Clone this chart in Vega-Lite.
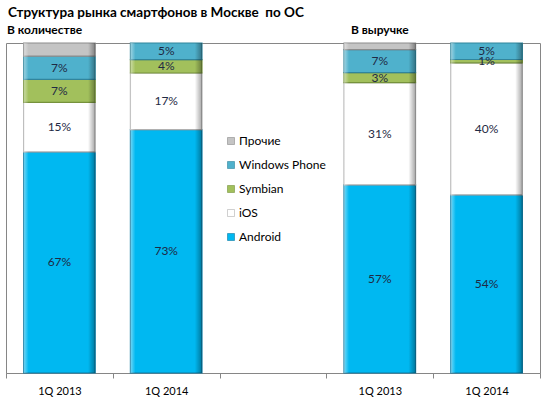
{
  "$schema": "https://vega.github.io/schema/vega-lite/v6.json",
  "width": 534,
  "height": 330,
  "autosize": "none",
  "padding": {"left": 6, "top": 43, "right": 12, "bottom": 33},
  "config": {
    "view": {"stroke": "#868686", "strokeWidth": 1},
    "font": "Lato"
  },
  "title": {
    "text": "Структура рынка смартфонов в Москве\u00a0 по ОС",
    "anchor": "start",
    "frame": "group",
    "font": "Lato",
    "fontSize": 13.5,
    "fontWeight": "bold",
    "color": "#000000",
    "baseline": "alphabetic",
    "dx": 2,
    "offset": -6
  },
  "layer": [
    {
      "data": {
        "values": [
          {"slot": "1Q 2013|q", "os": "Android", "value": 67},
          {"slot": "1Q 2013|q", "os": "iOS", "value": 15},
          {"slot": "1Q 2013|q", "os": "Symbian", "value": 7},
          {"slot": "1Q 2013|q", "os": "Windows Phone", "value": 7},
          {"slot": "1Q 2013|q", "os": "Прочие", "value": 4},
          {"slot": "1Q 2014|q", "os": "Android", "value": 73},
          {"slot": "1Q 2014|q", "os": "iOS", "value": 17},
          {"slot": "1Q 2014|q", "os": "Symbian", "value": 4},
          {"slot": "1Q 2014|q", "os": "Windows Phone", "value": 5},
          {"slot": "1Q 2013|r", "os": "Android", "value": 57},
          {"slot": "1Q 2013|r", "os": "iOS", "value": 31},
          {"slot": "1Q 2013|r", "os": "Symbian", "value": 3},
          {"slot": "1Q 2013|r", "os": "Windows Phone", "value": 7},
          {"slot": "1Q 2013|r", "os": "Прочие", "value": 2},
          {"slot": "1Q 2014|r", "os": "Android", "value": 54},
          {"slot": "1Q 2014|r", "os": "iOS", "value": 40},
          {"slot": "1Q 2014|r", "os": "Symbian", "value": 1},
          {"slot": "1Q 2014|r", "os": "Windows Phone", "value": 5}
        ]
      },
      "transform": [
        {"calculate": "indexof(['Android','iOS','Symbian','Windows Phone','Прочие'], datum.os)", "as": "k"},
        {"stack": "value", "groupby": ["slot"], "sort": [{"field": "k", "order": "ascending"}], "offset": "normalize", "as": ["v0", "v1"]},
        {"calculate": "(datum.v0 + datum.v1) / 2", "as": "mid"},
        {"calculate": "datum.value + '%'", "as": "label"}
      ],
      "encoding": {
        "x": {
          "field": "slot",
          "type": "nominal",
          "title": null,
          "scale": {
            "domain": ["1Q 2013|q", "1Q 2014|q", "|", "1Q 2013|r", "1Q 2014|r"],
            "paddingInner": 0,
            "paddingOuter": 0
          },
          "axis": {
            "labelExpr": "isString(datum.value) ? split(datum.value, '|')[0] : ''",
            "labelAngle": 0,
            "labelFont": "Lato",
            "labelFontSize": 11,
            "labelColor": "#000000",
            "labelPadding": 7,
            "tickBand": "extent",
            "tickSize": 5,
            "tickColor": "#868686",
            "domainColor": "#868686"
          }
        },
        "y": {"field": "v0", "type": "quantitative", "scale": {"domain": [0, 1], "nice": false}, "axis": null},
        "y2": {"field": "v1"}
      },
      "layer": [
        {
          "mark": {"type": "bar", "width": {"band": 0.67}, "strokeWidth": 1.2},
          "encoding": {
            "color": {
              "field": "os",
              "type": "nominal",
              "scale": {
                "domain": ["Прочие", "Windows Phone", "Symbian", "iOS", "Android"],
                "range": ["#C4C4C4", "#4FB1CC", "#A2C05C", "#FFFFFF", "#00B8F1"]
              },
              "legend": {
                "orient": "none",
                "legendX": 219,
                "legendY": 92,
                "title": null,
                "padding": 0,
                "symbolType": "square",
                "symbolSize": 49,
                "symbolStrokeColor": "#8C8C8C",
                "symbolStrokeWidth": 0.6,
                "labelFont": "Lato",
                "labelFontSize": 12,
                "labelColor": "#000000",
                "labelOffset": 2,
                "rowPadding": 12
              }
            },
            "stroke": {
              "field": "os",
              "type": "nominal",
              "scale": {
                "domain": ["Прочие", "Windows Phone", "Symbian", "iOS", "Android"],
                "range": ["#8C8C8C", "#31859C", "#76923C", "#B0B0B0", "#0E7AA3"]
              },
              "legend": null
            }
          }
        },
        {
          "mark": {
            "type": "bar",
            "width": {"band": 0.67},
            "strokeWidth": 0,
            "fill": {
              "gradient": "linear", "x1": 0, "y1": 0, "x2": 1, "y2": 0,
              "stops": [
                {"offset": 0, "color": "rgba(255,255,255,0.45)"},
                {"offset": 0.07, "color": "rgba(255,255,255,0)"},
                {"offset": 0.9, "color": "rgba(0,0,0,0)"},
                {"offset": 1, "color": "rgba(0,0,0,0.35)"}
              ]
            }
          }
        },
        {
          "transform": [{"filter": "datum.os != 'Прочие'"}],
          "mark": {"type": "text", "font": "Lato", "fontSize": 12, "color": "#1F2A44"},
          "encoding": {
            "y": {"field": "mid", "type": "quantitative"},
            "y2": null,
            "text": {"field": "label"}
          }
        }
      ]
    },
    {
      "data": {"values": [{"slot": "1Q 2013|q", "head": "В количестве"}]},
      "mark": {"type": "text", "font": "Lato", "fontSize": 12, "fontWeight": "bold", "color": "#000000", "align": "left", "baseline": "alphabetic", "dx": 1, "dy": -9},
      "encoding": {
        "x": {"field": "slot", "type": "nominal", "bandPosition": 0},
        "y": {"datum": 1, "type": "quantitative"},
        "text": {"field": "head"}
      }
    },
    {
      "data": {"values": [{"slot": "1Q 2013|r", "head": "В выручке"}]},
      "mark": {"type": "text", "font": "Lato", "fontSize": 12, "fontWeight": "bold", "color": "#000000", "align": "center", "baseline": "alphabetic", "dy": -9},
      "encoding": {
        "x": {"field": "slot", "type": "nominal"},
        "y": {"datum": 1, "type": "quantitative"},
        "text": {"field": "head"}
      }
    }
  ]
}
